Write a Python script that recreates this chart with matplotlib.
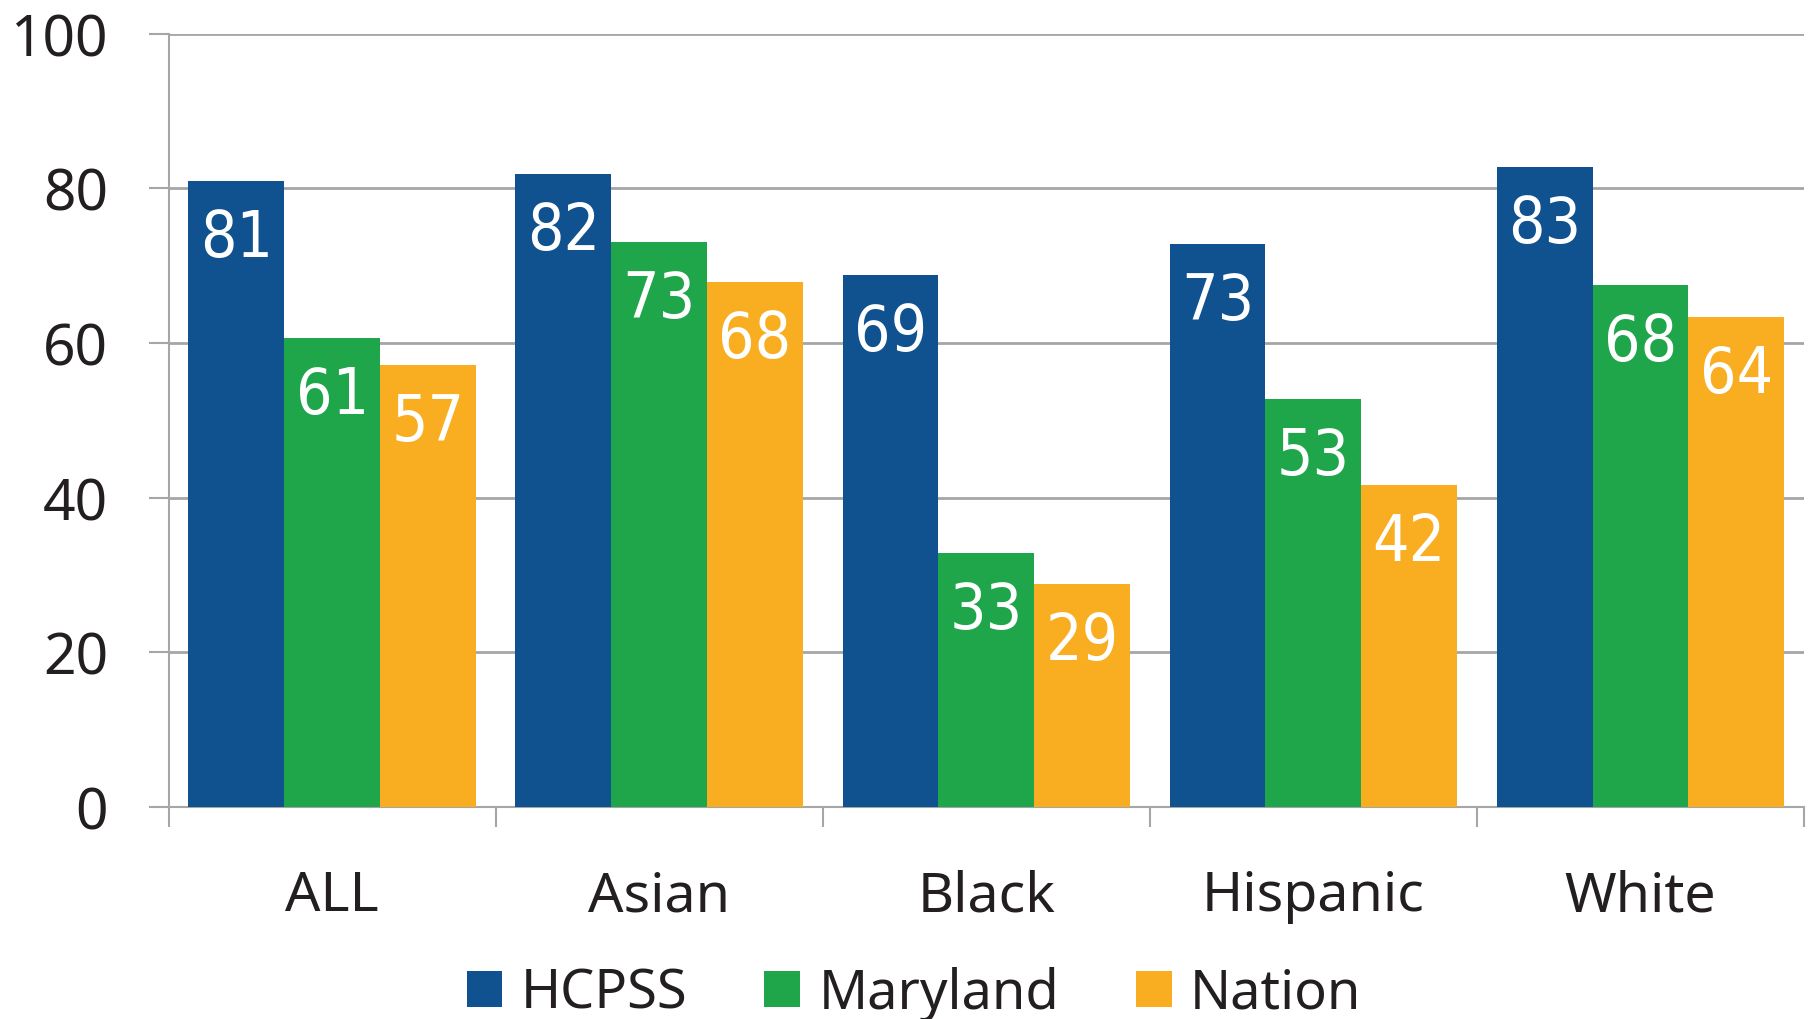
import matplotlib
matplotlib.use("Agg")
import matplotlib.pyplot as plt
from matplotlib import font_manager
from matplotlib.font_manager import FontProperties
import numpy as np

categories = ["ALL", "Asian", "Black", "Hispanic", "White"]
series_names = ["HCPSS", "Maryland", "Nation"]
hcpss = [80.9, 81.8, 68.8, 72.8, 82.8]
maryland = [60.7, 73.1, 32.8, 52.8, 67.5]
nation = [57.2, 67.9, 28.8, 41.6, 63.4]
hcpss_labels = ["81", "82", "69", "73", "83"]
maryland_labels = ["61", "73", "33", "53", "68"]
nation_labels = ["57", "68", "29", "42", "64"]
yticks = [0, 20, 40, 60, 80, 100]

colors = ["#0F528F", "#1FA64B", "#F9AE22"]
grid_color = "#A6A6A8"
text_color = "#231F20"

plt.rcParams['font.family'] = ['Noto Sans', 'DejaVu Sans']


def _wnum(wt):
    if isinstance(wt, (int, float)):
        return wt
    table = {'ultralight': 100, 'light': 300, 'normal': 400, 'regular': 400, 'book': 400,
             'medium': 500, 'roman': 400, 'semibold': 600, 'demibold': 600, 'demi': 600,
             'bold': 700, 'heavy': 800, 'extra bold': 800, 'black': 900}
    return table.get(str(wt).lower(), 400)


def _is_condensed(f):
    s = f.stretch
    if isinstance(s, (int, float)):
        return s < 500
    return 'condensed' in str(s).lower() or 'narrow' in f.name.lower() or 'condensed' in f.name.lower()


cands = [f for f in font_manager.fontManager.ttflist
         if _is_condensed(f) and f.style == 'normal' and f.fname.lower().endswith(('.ttf', '.otf'))]
label_fp = None
if cands:
    cands.sort(key=lambda f: (abs(_wnum(f.weight) - 420), 'sans' not in f.name.lower()))
    label_fp = FontProperties(fname=cands[0].fname, size=46)
else:
    label_fp = FontProperties(family='Roboto', size=46)

fig = plt.figure(figsize=(18.1, 10.2), dpi=100)
ax = fig.add_axes([0.0931, 0.2078, 0.9036, 0.7583])

w = 0.293
x = np.arange(len(categories))
all_vals = [hcpss, maryland, nation]
all_labels = [hcpss_labels, maryland_labels, nation_labels]
handles = []
for j, (vals, labs) in enumerate(zip(all_vals, all_labels)):
    pos = x + (j - 1) * w
    b = ax.bar(pos, vals, width=w, color=colors[j], label=series_names[j], zorder=3)
    handles.append(b)
    for px, v, lab in zip(pos, vals, labs):
        ax.annotate(lab, (px, v), xytext=(0, -54), textcoords="offset points",
                    ha="center", va="baseline", color="white",
                    fontproperties=label_fp, zorder=4)

ax.set_xlim(-0.5, len(categories) - 0.5)
ax.set_ylim(0, 100)
ax.set_yticks(yticks)
ax.set_yticklabels([str(t) for t in yticks], fontsize=41, color=text_color)
ax.yaxis.grid(True, color=grid_color, linewidth=2, zorder=0)
ax.set_axisbelow(True)

ax.set_xticks(np.arange(-0.5, len(categories)), minor=False)
ax.set_xticklabels([])
ax.set_xticks(x, minor=True)
ax.set_xticklabels(categories, minor=True, fontsize=40, color=text_color)
ax.tick_params(axis='x', which='major', length=14.4, width=1.5, color=grid_color, direction='out')
ax.tick_params(axis='x', which='minor', length=0, pad=44)
ax.tick_params(axis='y', length=14.4, width=1.5, color=grid_color, pad=29, direction='out')

for s in ['top', 'right']:
    ax.spines[s].set_visible(False)
for s in ['left', 'bottom']:
    ax.spines[s].set_color(grid_color)
    ax.spines[s].set_linewidth(1.5)

fig.legend(handles=handles, labels=series_names, loc='center', bbox_to_anchor=(0.505, 0.025),
           ncol=3, frameon=False, fontsize=39, handlelength=0.66, handleheight=0.66,
           handletextpad=0.34, columnspacing=1.42, labelcolor=text_color)

fig.savefig("out.png", dpi=100)
